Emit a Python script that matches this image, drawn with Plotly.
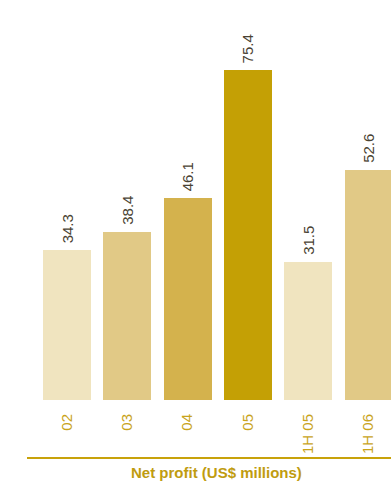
import plotly.graph_objects as go

categories = ["02", "03", "04", "05", "1H 05", "1H 06"]
values = [34.3, 38.4, 46.1, 75.4, 31.5, 52.6]
value_labels = ["34.3", "38.4", "46.1", "75.4", "31.5", "52.6"]
bar_colors = ["#f0e4bf", "#e1c986", "#d4b24d", "#c4a005", "#f0e4bf", "#e1c986"]
title_text = "Net profit (US$ millions)"

x_idx = list(range(len(categories)))

fig = go.Figure()
fig.add_trace(go.Bar(
    x=x_idx, y=values, width=0.796,
    marker=dict(color=bar_colors, line=dict(width=0)),
    hoverinfo="skip",
))

for i, (v, lab) in enumerate(zip(values, value_labels)):
    fig.add_annotation(
        x=i, y=v, text=lab, showarrow=False, textangle=-90,
        xanchor="center", yanchor="bottom", yshift=5,
        font=dict(family="Liberation Sans, Arial, sans-serif", size=15, color="#4a4333"),
    )

fig.add_shape(type="line", xref="paper", yref="paper",
              x0=0, x1=1, y0=-0.145, y1=-0.145,
              line=dict(color="#c8a20a", width=2))

fig.add_annotation(
    xref="paper", yref="paper", x=0.52, y=-0.182, text="<b>" + title_text + "</b>",
    showarrow=False, xanchor="center", yanchor="middle",
    font=dict(family="Liberation Sans, Arial, sans-serif", size=15, color="#c09c10"),
)

fig.update_layout(
    width=391, height=481,
    margin=dict(l=27, r=0, t=0, b=81),
    paper_bgcolor="white", plot_bgcolor="white",
    showlegend=False,
    bargap=0,
    xaxis=dict(
        range=[-0.663, 5.373], tickmode="array", tickvals=x_idx, ticktext=categories,
        tickangle=-90, showgrid=False, zeroline=False, showline=False, ticks="",
        ticklabelstandoff=10,
        tickfont=dict(family="Liberation Sans, Arial, sans-serif", size=15, color="#c9a41c"),
    ),
    yaxis=dict(range=[0, 91.4], visible=False, showgrid=False, zeroline=False),
)

fig.write_html(
    "out.html",
    config={"displayModeBar": False},
    post_script="document.body.style.margin='0';document.body.style.overflow='hidden';",
)
